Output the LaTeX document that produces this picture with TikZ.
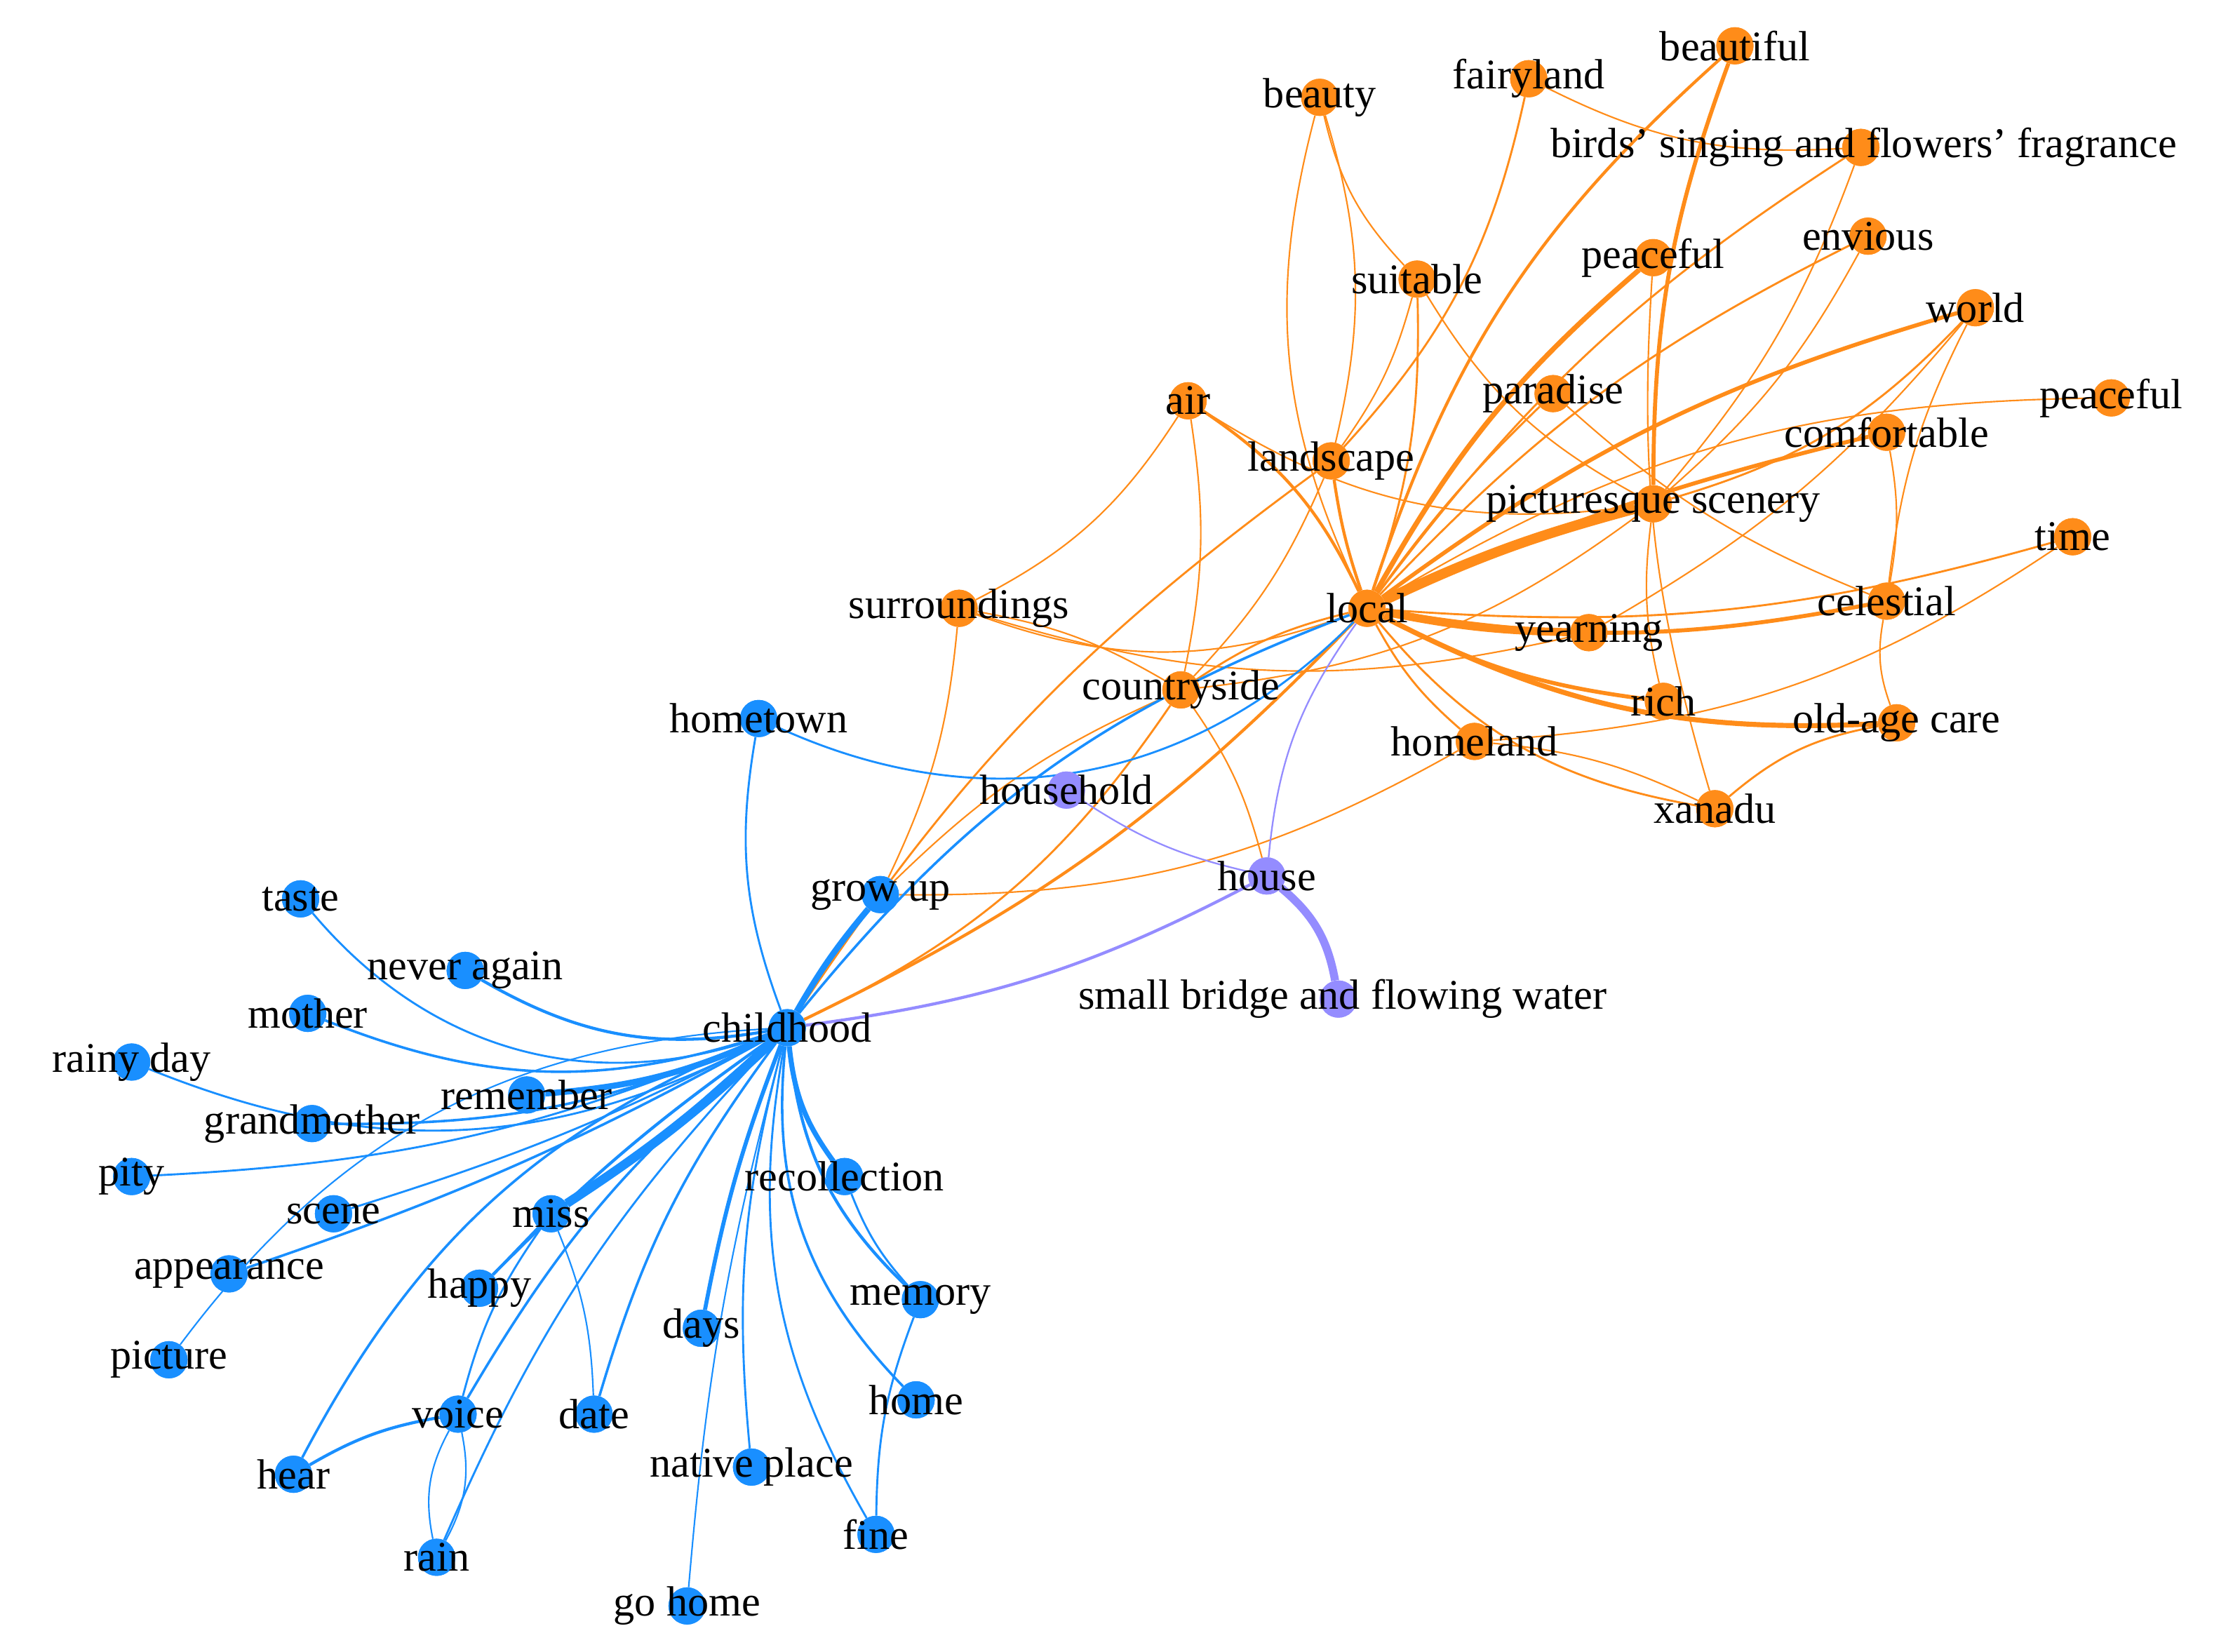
\documentclass[tikz,border=0pt]{standalone}
\usepackage{fontspec}
\setmainfont{Liberation Serif}
\definecolor{bl}{rgb}{0.1,0.56,1}
\definecolor{og}{rgb}{1,0.55,0.1}
\definecolor{pu}{rgb}{0.58,0.55,1}
\begin{document}
\begin{tikzpicture}[x=0.05cm,y=-0.05cm,
 every node/.style={font=\fontsize{42}{46}\selectfont},
 o/.style={circle,fill=og,inner sep=0pt,minimum size=1.3cm},
 b/.style={circle,fill=bl,inner sep=0pt,minimum size=1.3cm},
 p/.style={circle,fill=pu,inner sep=0pt,minimum size=1.3cm},
 lab/.style={inner sep=0pt,fill=none},
 oe/.style={draw=og,line width=1.6pt},
 be/.style={draw=bl,line width=1.6pt},
 pe/.style={draw=pu,line width=1.6pt}]
\useasboundingbox (0,0) rectangle (1560,1154);
\foreach \n/\x/\y in {beauty/922/68,fairyland/1068/55,beautiful/1212/32,birds/1300/103,suitable/990/195,peaceful/1155/180,envious/1305/165,world/1380/215,paradise/1085/275,air/830/280,landscape/930/322,comfortable/1318/302,peacefulb/1475/278,pic/1155/352,time/1448/375,surroundings/670/425,local/955/425,yearning/1110/442,celestial/1318/420,countryside/825/482,rich/1162/490,oldage/1325/505,homeland/1030/518,xanadu/1198/565}
  \node[o] (\n) at (\x,\y) {};
\foreach \n/\x/\y in {household/745/552,house/885/612,bridge/935/698}
  \node[p] (\n) at (\x,\y) {};
\foreach \n/\x/\y in {hometown/530/502,growup/615/625,childhood/550/718,taste/210/628,neveragain/325/678,mother/215/708,rainyday/92/742,remember/368/765,grandmother/218/785,pity/92/822,scene/233/848,recollection/590/822,miss/385/848,appearance/160/890,happy/335/900,memory/643/908,days/490/928,picture/118/950,voice/320/988,date/415/988,home/640/978,hear/205/1030,native/525/1025,fine/612/1072,rain/305/1088,gohome/480/1122}
  \node[b] (\n) at (\x,\y) {};
\foreach \a/\b/\w/\ang in {local/pic/10/5,local/yearning/8/-5,local/world/4/10,local/comfortable/4/5,local/peaceful/5/10,local/beautiful/3/15,local/birds/2/10,local/celestial/4/-10,local/oldage/5/-15,local/rich/4/-10,local/homeland/2/-10,local/xanadu/2/-20,local/landscape/3/5,local/air/3/-15,local/suitable/2/-10,local/paradise/2/5,local/envious/2/10,local/time/2/-10,local/peacefulb/1.5/15,local/countryside/2/-10,local/surroundings/1.5/20,beauty/landscape/1.5/15,beauty/suitable/1.5/-15,beauty/local/1.5/-20,fairyland/landscape/2/15,fairyland/birds/1.5/-15,beautiful/pic/4/-10,suitable/pic/1.5/-15,suitable/landscape/1.5/10,birds/pic/1.5/10,envious/pic/1.5/10,world/pic/2/15,world/yearning/1.5/10,world/celestial/1.5/-10,air/surroundings/1.5/15,air/countryside/1.5/10,landscape/countryside/1.5/10,landscape/childhood/2/-10,countryside/childhood/2/15,local/childhood/3/10,surroundings/countryside/1.5/10,surroundings/yearning/1.5/-15,countryside/house/1.5/10,countryside/growup/1.5/-10,homeland/growup/1.5/15,homeland/xanadu/1.5/10,peaceful/xanadu/1.5/-10,comfortable/celestial/1.5/10,paradise/celestial/1.5/-10,pic/rich/1.5/-10,celestial/oldage/1.5/-15,surroundings/growup/1.5/10,air/pic/1.5/-20,countryside/pic/1.5/-15,homeland/time/1.5/-15,xanadu/oldage/2/15}
  \draw[oe,line width=\w pt] (\a) to[bend left=\ang] (\b);
\foreach \a/\b/\w/\ang in {childhood/hometown/2/15,childhood/growup/6/5,childhood/taste/2/35,childhood/neveragain/3/20,childhood/mother/2.5/20,childhood/rainyday/2/25,childhood/remember/6/10,childhood/grandmother/2.5/12,childhood/pity/2/10,childhood/scene/2/5,childhood/recollection/5/-15,childhood/miss/9/5,childhood/appearance/2.5/5,childhood/happy/3/-5,childhood/memory/3/-20,childhood/days/4/-5,childhood/picture/1.5/-25,childhood/voice/2.5/-10,childhood/date/2.5/-10,childhood/home/2.5/-25,childhood/hear/2.5/-20,childhood/native/2/-10,childhood/fine/2/-20,childhood/rain/2/-10,childhood/gohome/1.5/-5,hometown/local/2/-35,childhood/local/2.5/15,hear/voice/3/10,voice/rain/1.5/20,rain/voice/1.5/20,voice/miss/2/10,recollection/memory/2/-10,memory/fine/2/-10,miss/date/1.5/10,happy/miss/2/0}
  \draw[be,line width=\w pt] (\a) to[bend left=\ang] (\b);
\draw[pe,line width=8pt] (house) to[bend left=20] (bridge);
\draw[pe] (household) to[bend right=10] (house);
\draw[pe] (local) to[bend right=15] (house);
\draw[pe,line width=3pt] (childhood) to[bend right=10] (house);
\foreach \n in {beauty,fairyland,beautiful,birds,suitable,peaceful,envious,world,paradise,air,landscape,comfortable,peacefulb,pic,time,surroundings,local,yearning,celestial,countryside,rich,oldage,homeland,xanadu}
  \fill[og] (\n) circle (0.65cm);
\foreach \n in {household,house,bridge} \fill[pu] (\n) circle (0.65cm);
\foreach \n in {hometown,growup,childhood,taste,neveragain,mother,rainyday,remember,grandmother,pity,scene,recollection,miss,appearance,happy,memory,days,picture,voice,date,home,hear,native,fine,rain,gohome}
  \fill[bl] (\n) circle (0.65cm);
\foreach \n/\t in {beauty/beauty,fairyland/fairyland,beautiful/beautiful,suitable/suitable,peaceful/peaceful,envious/envious,world/world,paradise/paradise,air/air,landscape/landscape,comfortable/comfortable,peacefulb/peaceful,time/time,surroundings/surroundings,local/local,yearning/yearning,celestial/celestial,countryside/countryside,rich/rich,oldage/old-age care,homeland/homeland,xanadu/xanadu,household/household,house/house,hometown/hometown,growup/grow up,childhood/childhood,taste/taste,neveragain/never again,mother/mother,rainyday/rainy day,remember/remember,grandmother/grandmother,pity/pity,scene/scene,recollection/recollection,miss/miss,appearance/appearance,happy/happy,memory/memory,days/days,picture/picture,voice/voice,date/date,home/home,hear/hear,native/native place,fine/fine,rain/rain,gohome/go home}
  \node[lab] at (\n) {\t};
\node[lab] at (1302,103) {birds' singing and flowers' fragrance};
\node[lab] at (1155,352) {picturesque scenery};
\node[lab] at (938,698) {small bridge and flowing water};
\end{tikzpicture}
\end{document}
